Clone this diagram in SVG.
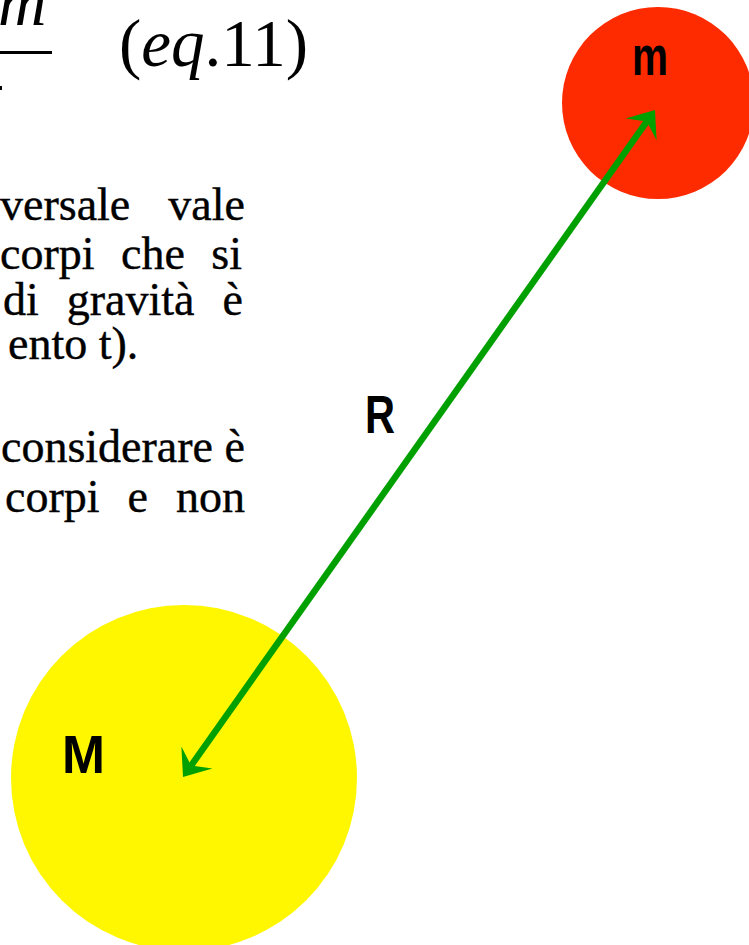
<svg xmlns="http://www.w3.org/2000/svg" width="749" height="945" viewBox="0 0 749 945">
<style>
.body{font-family:"Liberation Serif","Times New Roman",serif;font-size:46px;fill:#000;stroke:#000;stroke-width:0.4}
.eq{font-family:"Liberation Serif","Times New Roman",serif;font-size:67px;fill:#000}
.lbl{font-family:"Liberation Sans",Arial,sans-serif;font-weight:bold;fill:#000}
.conn{stroke:#00a000;stroke-width:6.5;fill:none}
</style>
<defs>
<marker id="ah" markerUnits="userSpaceOnUse" markerWidth="26" markerHeight="40" viewBox="0 0 26 40" refX="10" refY="20" orient="auto-start-reverse">
<path d="M24,20 L0,1 L10,20 L0,39 Z" fill="#00a000"/>
</marker>
</defs>
<rect width="749" height="945" fill="#fff"/>
<g id="equation">
<text class="eq" x="-2" y="25" font-style="italic">m</text>
<rect x="0" y="51" width="52" height="3" fill="#000"/>
<rect x="0" y="86" width="2" height="4" fill="#000"/>
<text class="eq" x="119" y="66">(<tspan font-style="italic">eq</tspan>.11)</text>
</g>
<g id="paragraph">
<text class="body" x="0" y="220" word-spacing="26.5">versale vale</text>
<text class="body" x="0" y="269" word-spacing="15">corpi che si</text>
<text class="body" x="3" y="315" word-spacing="16.5">di gravità è</text>
<text class="body" x="8" y="359">ento t).</text>
<text class="body" x="1" y="462">considerare è</text>
<text class="body" x="5" y="512" word-spacing="16.5">corpi e non</text>
</g>
<g id="node-M">
<circle cx="184" cy="778" r="173" fill="#fff700"/>
<text class="lbl" x="62" y="773" font-size="53" textLength="43" lengthAdjust="spacingAndGlyphs">M</text>
</g>
<g id="node-m">
<circle cx="658" cy="103" r="96" fill="#ff2b00"/>
<text class="lbl" x="632" y="75" font-size="56" textLength="36" lengthAdjust="spacingAndGlyphs">m</text>
</g>
<g id="connectors">
<line class="conn" x1="191.1" y1="765.6" x2="646.9" y2="121.4" marker-start="url(#ah)" marker-end="url(#ah)"/>
<text class="lbl" x="365" y="433" font-size="53" textLength="30" lengthAdjust="spacingAndGlyphs">R</text>
</g>
</svg>
